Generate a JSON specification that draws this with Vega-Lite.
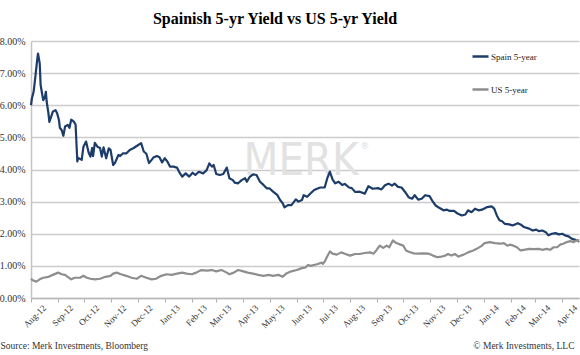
{
  "$schema": "https://vega.github.io/schema/vega-lite/v6.json",
  "width": 548,
  "height": 257,
  "autosize": {"type": "none"},
  "padding": {"left": 31, "top": 41, "right": 1, "bottom": 57},
  "background": "white",
  "title": {"text": "Spainish 5-yr Yield vs US 5-yr Yield", "font": "Liberation Serif", "fontSize": 16, "fontWeight": "bold", "color": "#000000", "anchor": "middle", "dx": -30, "offset": 9},
  "config": {
    "view": {"stroke": null},
    "axisX": {
      "labelAngle": -45, "labelAlign": "right", "labelBaseline": "middle",
      "labelOffset": 13, "labelPadding": 4, "labelFlush": false, "labelOverlap": false,
      "labelFont": "Liberation Serif", "labelFontSize": 9, "labelColor": "#333333",
      "grid": false, "tickSize": 4, "tickColor": "#b0b0b0", "tickWidth": 1,
      "domainColor": "#b8b8b8", "domainWidth": 1.5,
      "titleX": -31, "titleY": 47, "titleAlign": "left", "titleBaseline": "middle",
      "titleFont": "Liberation Serif", "titleFontSize": 9.5, "titleFontWeight": "normal", "titleColor": "#333333"
    },
    "axisY": {
      "labelOverlap": false,
      "grid": true, "gridColor": "#cccccc", "gridWidth": 1.5,
      "domainColor": "#c4c4c4", "domainWidth": 1.5, "ticks": false, "labelPadding": 6,
      "labelFont": "Liberation Serif", "labelFontSize": 10, "labelColor": "#333333",
      "titleAngle": 0, "titleX": 543, "titleY": 304,
      "titleAlign": "right", "titleBaseline": "middle",
      "titleFont": "Liberation Serif", "titleFontSize": 9.5, "titleFontWeight": "normal", "titleColor": "#333333"
    }
  },
  "layer": [
    {
      "data": {"values": [{"label": "MERK"}]},
      "mark": {"type": "text", "font": "DejaVu Sans Condensed", "fontSize": 45, "color": "#e2e2e2", "align": "center", "baseline": "alphabetic"},
      "encoding": {
        "x": {"datum": {"year": 2013, "month": 6, "date": 6, "utc": true}, "type": "temporal",
          "axis": {"tickCount": {"interval": "month", "step": 1}, "labelExpr": "utcFormat(datum.value, '%b-%y')", "title": "Source: Merk Investments, Bloomberg"}},
        "y": {"datum": 3.83, "type": "quantitative",
          "axis": {"values": [0, 1, 2, 3, 4, 5, 6, 7, 8], "tickCount": 12, "labelExpr": "format(datum.value, '.2f') + '%'", "title": "© Merk Investments, LLC"}},
        "text": {"field": "label"}
      }
    },
    {
      "data": {"values": [{"label": "®"}]},
      "mark": {"type": "text", "font": "DejaVu Sans", "fontSize": 9, "color": "#dddddd", "align": "center", "baseline": "middle"},
      "encoding": {
        "x": {"datum": {"year": 2013, "month": 8, "date": 18, "utc": true}, "type": "temporal",
          "axis": {"tickCount": {"interval": "month", "step": 1}, "labelExpr": "utcFormat(datum.value, '%b-%y')", "title": "Source: Merk Investments, Bloomberg"}},
        "y": {"datum": 4.74, "type": "quantitative",
          "axis": {"values": [0, 1, 2, 3, 4, 5, 6, 7, 8], "tickCount": 12, "labelExpr": "format(datum.value, '.2f') + '%'", "title": "© Merk Investments, LLC"}},
        "text": {"field": "label"}
      }
    },
    {
      "data": {"values": [
        {"series":"Spain 5-year","date":"2012-08-01","yield":6.00},
        {"series":"Spain 5-year","date":"2012-08-02","yield":6.21},
        {"series":"Spain 5-year","date":"2012-08-04","yield":6.42},
        {"series":"Spain 5-year","date":"2012-08-06","yield":6.89},
        {"series":"Spain 5-year","date":"2012-08-08","yield":7.40},
        {"series":"Spain 5-year","date":"2012-08-09","yield":7.61},
        {"series":"Spain 5-year","date":"2012-08-11","yield":7.30},
        {"series":"Spain 5-year","date":"2012-08-12","yield":6.63},
        {"series":"Spain 5-year","date":"2012-08-14","yield":6.31},
        {"series":"Spain 5-year","date":"2012-08-15","yield":6.16},
        {"series":"Spain 5-year","date":"2012-08-17","yield":6.26},
        {"series":"Spain 5-year","date":"2012-08-18","yield":6.42},
        {"series":"Spain 5-year","date":"2012-08-19","yield":6.10},
        {"series":"Spain 5-year","date":"2012-08-21","yield":5.74},
        {"series":"Spain 5-year","date":"2012-08-22","yield":5.48},
        {"series":"Spain 5-year","date":"2012-08-24","yield":5.64},
        {"series":"Spain 5-year","date":"2012-08-26","yield":5.80},
        {"series":"Spain 5-year","date":"2012-08-29","yield":5.85},
        {"series":"Spain 5-year","date":"2012-08-31","yield":5.74},
        {"series":"Spain 5-year","date":"2012-09-02","yield":5.54},
        {"series":"Spain 5-year","date":"2012-09-03","yield":5.30},
        {"series":"Spain 5-year","date":"2012-09-05","yield":5.23},
        {"series":"Spain 5-year","date":"2012-09-07","yield":5.05},
        {"series":"Spain 5-year","date":"2012-09-09","yield":5.34},
        {"series":"Spain 5-year","date":"2012-09-12","yield":5.39},
        {"series":"Spain 5-year","date":"2012-09-14","yield":5.30},
        {"series":"Spain 5-year","date":"2012-09-16","yield":5.55},
        {"series":"Spain 5-year","date":"2012-09-19","yield":5.49},
        {"series":"Spain 5-year","date":"2012-09-21","yield":5.40},
        {"series":"Spain 5-year","date":"2012-09-23","yield":4.25},
        {"series":"Spain 5-year","date":"2012-09-24","yield":4.36},
        {"series":"Spain 5-year","date":"2012-09-26","yield":4.33},
        {"series":"Spain 5-year","date":"2012-09-28","yield":4.30},
        {"series":"Spain 5-year","date":"2012-09-30","yield":4.71},
        {"series":"Spain 5-year","date":"2012-10-03","yield":4.87},
        {"series":"Spain 5-year","date":"2012-10-06","yield":4.52},
        {"series":"Spain 5-year","date":"2012-10-08","yield":4.40},
        {"series":"Spain 5-year","date":"2012-10-10","yield":4.67},
        {"series":"Spain 5-year","date":"2012-10-11","yield":4.42},
        {"series":"Spain 5-year","date":"2012-10-13","yield":4.83},
        {"series":"Spain 5-year","date":"2012-10-16","yield":4.71},
        {"series":"Spain 5-year","date":"2012-10-19","yield":4.67},
        {"series":"Spain 5-year","date":"2012-10-21","yield":4.40},
        {"series":"Spain 5-year","date":"2012-10-23","yield":4.69},
        {"series":"Spain 5-year","date":"2012-10-26","yield":4.35},
        {"series":"Spain 5-year","date":"2012-10-29","yield":4.66},
        {"series":"Spain 5-year","date":"2012-10-31","yield":4.61},
        {"series":"Spain 5-year","date":"2012-11-03","yield":4.14},
        {"series":"Spain 5-year","date":"2012-11-05","yield":4.20},
        {"series":"Spain 5-year","date":"2012-11-09","yield":4.45},
        {"series":"Spain 5-year","date":"2012-11-11","yield":4.42},
        {"series":"Spain 5-year","date":"2012-11-14","yield":4.50},
        {"series":"Spain 5-year","date":"2012-11-18","yield":4.50},
        {"series":"Spain 5-year","date":"2012-11-22","yield":4.61},
        {"series":"Spain 5-year","date":"2012-11-26","yield":4.66},
        {"series":"Spain 5-year","date":"2012-11-30","yield":4.73},
        {"series":"Spain 5-year","date":"2012-12-05","yield":4.82},
        {"series":"Spain 5-year","date":"2012-12-08","yield":4.56},
        {"series":"Spain 5-year","date":"2012-12-11","yield":4.49},
        {"series":"Spain 5-year","date":"2012-12-14","yield":4.20},
        {"series":"Spain 5-year","date":"2012-12-17","yield":4.30},
        {"series":"Spain 5-year","date":"2012-12-19","yield":4.37},
        {"series":"Spain 5-year","date":"2012-12-23","yield":4.42},
        {"series":"Spain 5-year","date":"2012-12-26","yield":4.38},
        {"series":"Spain 5-year","date":"2012-12-29","yield":4.22},
        {"series":"Spain 5-year","date":"2013-01-01","yield":4.35},
        {"series":"Spain 5-year","date":"2013-01-04","yield":4.25},
        {"series":"Spain 5-year","date":"2013-01-07","yield":4.09},
        {"series":"Spain 5-year","date":"2013-01-11","yield":4.09},
        {"series":"Spain 5-year","date":"2013-01-15","yield":4.06},
        {"series":"Spain 5-year","date":"2013-01-18","yield":3.90},
        {"series":"Spain 5-year","date":"2013-01-21","yield":3.78},
        {"series":"Spain 5-year","date":"2013-01-25","yield":3.88},
        {"series":"Spain 5-year","date":"2013-01-29","yield":3.78},
        {"series":"Spain 5-year","date":"2013-02-02","yield":3.90},
        {"series":"Spain 5-year","date":"2013-02-05","yield":3.83},
        {"series":"Spain 5-year","date":"2013-02-09","yield":3.93},
        {"series":"Spain 5-year","date":"2013-02-14","yield":3.88},
        {"series":"Spain 5-year","date":"2013-02-18","yield":3.98},
        {"series":"Spain 5-year","date":"2013-02-21","yield":4.19},
        {"series":"Spain 5-year","date":"2013-02-24","yield":4.09},
        {"series":"Spain 5-year","date":"2013-02-26","yield":4.14},
        {"series":"Spain 5-year","date":"2013-03-01","yield":3.86},
        {"series":"Spain 5-year","date":"2013-03-05","yield":3.83},
        {"series":"Spain 5-year","date":"2013-03-09","yield":3.86},
        {"series":"Spain 5-year","date":"2013-03-13","yield":4.06},
        {"series":"Spain 5-year","date":"2013-03-16","yield":3.73},
        {"series":"Spain 5-year","date":"2013-03-20","yield":3.67},
        {"series":"Spain 5-year","date":"2013-03-22","yield":3.59},
        {"series":"Spain 5-year","date":"2013-03-26","yield":3.57},
        {"series":"Spain 5-year","date":"2013-03-30","yield":3.67},
        {"series":"Spain 5-year","date":"2013-04-03","yield":3.73},
        {"series":"Spain 5-year","date":"2013-04-05","yield":3.62},
        {"series":"Spain 5-year","date":"2013-04-08","yield":3.76},
        {"series":"Spain 5-year","date":"2013-04-12","yield":3.85},
        {"series":"Spain 5-year","date":"2013-04-16","yield":3.83},
        {"series":"Spain 5-year","date":"2013-04-20","yield":3.62},
        {"series":"Spain 5-year","date":"2013-04-24","yield":3.52},
        {"series":"Spain 5-year","date":"2013-04-28","yield":3.41},
        {"series":"Spain 5-year","date":"2013-05-01","yield":3.41},
        {"series":"Spain 5-year","date":"2013-05-05","yield":3.31},
        {"series":"Spain 5-year","date":"2013-05-10","yield":3.20},
        {"series":"Spain 5-year","date":"2013-05-13","yield":3.05},
        {"series":"Spain 5-year","date":"2013-05-16","yield":2.95},
        {"series":"Spain 5-year","date":"2013-05-18","yield":2.82},
        {"series":"Spain 5-year","date":"2013-05-22","yield":2.89},
        {"series":"Spain 5-year","date":"2013-05-26","yield":2.89},
        {"series":"Spain 5-year","date":"2013-05-31","yield":3.07},
        {"series":"Spain 5-year","date":"2013-06-03","yield":3.00},
        {"series":"Spain 5-year","date":"2013-06-07","yield":3.05},
        {"series":"Spain 5-year","date":"2013-06-09","yield":3.20},
        {"series":"Spain 5-year","date":"2013-06-13","yield":3.15},
        {"series":"Spain 5-year","date":"2013-06-17","yield":3.26},
        {"series":"Spain 5-year","date":"2013-06-21","yield":3.36},
        {"series":"Spain 5-year","date":"2013-06-25","yield":3.41},
        {"series":"Spain 5-year","date":"2013-06-28","yield":3.44},
        {"series":"Spain 5-year","date":"2013-07-03","yield":3.44},
        {"series":"Spain 5-year","date":"2013-07-06","yield":3.73},
        {"series":"Spain 5-year","date":"2013-07-09","yield":3.93},
        {"series":"Spain 5-year","date":"2013-07-12","yield":3.69},
        {"series":"Spain 5-year","date":"2013-07-15","yield":3.57},
        {"series":"Spain 5-year","date":"2013-07-19","yield":3.62},
        {"series":"Spain 5-year","date":"2013-07-23","yield":3.52},
        {"series":"Spain 5-year","date":"2013-07-26","yield":3.55},
        {"series":"Spain 5-year","date":"2013-07-31","yield":3.44},
        {"series":"Spain 5-year","date":"2013-08-03","yield":3.42},
        {"series":"Spain 5-year","date":"2013-08-07","yield":3.30},
        {"series":"Spain 5-year","date":"2013-08-12","yield":3.31},
        {"series":"Spain 5-year","date":"2013-08-18","yield":3.25},
        {"series":"Spain 5-year","date":"2013-08-22","yield":3.48},
        {"series":"Spain 5-year","date":"2013-08-27","yield":3.40},
        {"series":"Spain 5-year","date":"2013-09-02","yield":3.42},
        {"series":"Spain 5-year","date":"2013-09-06","yield":3.38},
        {"series":"Spain 5-year","date":"2013-09-10","yield":3.51},
        {"series":"Spain 5-year","date":"2013-09-14","yield":3.56},
        {"series":"Spain 5-year","date":"2013-09-18","yield":3.50},
        {"series":"Spain 5-year","date":"2013-09-21","yield":3.56},
        {"series":"Spain 5-year","date":"2013-09-25","yield":3.46},
        {"series":"Spain 5-year","date":"2013-09-29","yield":3.44},
        {"series":"Spain 5-year","date":"2013-10-03","yield":3.30},
        {"series":"Spain 5-year","date":"2013-10-07","yield":3.14},
        {"series":"Spain 5-year","date":"2013-10-11","yield":3.09},
        {"series":"Spain 5-year","date":"2013-10-14","yield":3.20},
        {"series":"Spain 5-year","date":"2013-10-18","yield":3.06},
        {"series":"Spain 5-year","date":"2013-10-22","yield":3.09},
        {"series":"Spain 5-year","date":"2013-10-26","yield":3.20},
        {"series":"Spain 5-year","date":"2013-10-31","yield":3.17},
        {"series":"Spain 5-year","date":"2013-11-04","yield":2.99},
        {"series":"Spain 5-year","date":"2013-11-07","yield":2.88},
        {"series":"Spain 5-year","date":"2013-11-11","yield":2.81},
        {"series":"Spain 5-year","date":"2013-11-16","yield":2.73},
        {"series":"Spain 5-year","date":"2013-11-20","yield":2.75},
        {"series":"Spain 5-year","date":"2013-11-23","yield":2.71},
        {"series":"Spain 5-year","date":"2013-11-28","yield":2.71},
        {"series":"Spain 5-year","date":"2013-12-02","yield":2.63},
        {"series":"Spain 5-year","date":"2013-12-07","yield":2.57},
        {"series":"Spain 5-year","date":"2013-12-11","yield":2.60},
        {"series":"Spain 5-year","date":"2013-12-14","yield":2.73},
        {"series":"Spain 5-year","date":"2013-12-18","yield":2.67},
        {"series":"Spain 5-year","date":"2013-12-22","yield":2.78},
        {"series":"Spain 5-year","date":"2013-12-26","yield":2.73},
        {"series":"Spain 5-year","date":"2013-12-30","yield":2.75},
        {"series":"Spain 5-year","date":"2014-01-05","yield":2.83},
        {"series":"Spain 5-year","date":"2014-01-10","yield":2.85},
        {"series":"Spain 5-year","date":"2014-01-13","yield":2.78},
        {"series":"Spain 5-year","date":"2014-01-16","yield":2.57},
        {"series":"Spain 5-year","date":"2014-01-19","yield":2.42},
        {"series":"Spain 5-year","date":"2014-01-22","yield":2.39},
        {"series":"Spain 5-year","date":"2014-01-25","yield":2.31},
        {"series":"Spain 5-year","date":"2014-01-30","yield":2.29},
        {"series":"Spain 5-year","date":"2014-02-03","yield":2.26},
        {"series":"Spain 5-year","date":"2014-02-09","yield":2.33},
        {"series":"Spain 5-year","date":"2014-02-12","yield":2.29},
        {"series":"Spain 5-year","date":"2014-02-16","yield":2.21},
        {"series":"Spain 5-year","date":"2014-02-22","yield":2.16},
        {"series":"Spain 5-year","date":"2014-02-26","yield":2.10},
        {"series":"Spain 5-year","date":"2014-03-02","yield":2.13},
        {"series":"Spain 5-year","date":"2014-03-05","yield":2.08},
        {"series":"Spain 5-year","date":"2014-03-09","yield":2.10},
        {"series":"Spain 5-year","date":"2014-03-13","yield":2.05},
        {"series":"Spain 5-year","date":"2014-03-16","yield":1.95},
        {"series":"Spain 5-year","date":"2014-03-20","yield":2.00},
        {"series":"Spain 5-year","date":"2014-03-24","yield":2.02},
        {"series":"Spain 5-year","date":"2014-03-28","yield":1.98},
        {"series":"Spain 5-year","date":"2014-04-01","yield":2.00},
        {"series":"Spain 5-year","date":"2014-04-04","yield":1.95},
        {"series":"Spain 5-year","date":"2014-04-08","yield":1.92},
        {"series":"Spain 5-year","date":"2014-04-12","yield":1.84},
        {"series":"Spain 5-year","date":"2014-04-16","yield":1.81},
        {"series":"Spain 5-year","date":"2014-04-20","yield":1.78},
        {"series":"US 5-year","date":"2012-08-01","yield":0.60},
        {"series":"US 5-year","date":"2012-08-03","yield":0.55},
        {"series":"US 5-year","date":"2012-08-07","yield":0.51},
        {"series":"US 5-year","date":"2012-08-11","yield":0.58},
        {"series":"US 5-year","date":"2012-08-15","yield":0.63},
        {"series":"US 5-year","date":"2012-08-21","yield":0.66},
        {"series":"US 5-year","date":"2012-08-26","yield":0.72},
        {"series":"US 5-year","date":"2012-09-01","yield":0.79},
        {"series":"US 5-year","date":"2012-09-05","yield":0.74},
        {"series":"US 5-year","date":"2012-09-09","yield":0.72},
        {"series":"US 5-year","date":"2012-09-12","yield":0.66},
        {"series":"US 5-year","date":"2012-09-16","yield":0.58},
        {"series":"US 5-year","date":"2012-09-20","yield":0.63},
        {"series":"US 5-year","date":"2012-09-26","yield":0.63},
        {"series":"US 5-year","date":"2012-09-30","yield":0.69},
        {"series":"US 5-year","date":"2012-10-04","yield":0.63},
        {"series":"US 5-year","date":"2012-10-08","yield":0.60},
        {"series":"US 5-year","date":"2012-10-13","yield":0.58},
        {"series":"US 5-year","date":"2012-10-19","yield":0.60},
        {"series":"US 5-year","date":"2012-10-25","yield":0.66},
        {"series":"US 5-year","date":"2012-10-31","yield":0.69},
        {"series":"US 5-year","date":"2012-11-03","yield":0.76},
        {"series":"US 5-year","date":"2012-11-07","yield":0.79},
        {"series":"US 5-year","date":"2012-11-12","yield":0.74},
        {"series":"US 5-year","date":"2012-11-18","yield":0.69},
        {"series":"US 5-year","date":"2012-11-24","yield":0.63},
        {"series":"US 5-year","date":"2012-11-30","yield":0.60},
        {"series":"US 5-year","date":"2012-12-05","yield":0.69},
        {"series":"US 5-year","date":"2012-12-11","yield":0.63},
        {"series":"US 5-year","date":"2012-12-17","yield":0.58},
        {"series":"US 5-year","date":"2012-12-22","yield":0.60},
        {"series":"US 5-year","date":"2012-12-28","yield":0.69},
        {"series":"US 5-year","date":"2013-01-03","yield":0.74},
        {"series":"US 5-year","date":"2013-01-09","yield":0.72},
        {"series":"US 5-year","date":"2013-01-15","yield":0.76},
        {"series":"US 5-year","date":"2013-01-21","yield":0.79},
        {"series":"US 5-year","date":"2013-01-26","yield":0.76},
        {"series":"US 5-year","date":"2013-02-01","yield":0.74},
        {"series":"US 5-year","date":"2013-02-06","yield":0.79},
        {"series":"US 5-year","date":"2013-02-12","yield":0.87},
        {"series":"US 5-year","date":"2013-02-18","yield":0.85},
        {"series":"US 5-year","date":"2013-02-24","yield":0.87},
        {"series":"US 5-year","date":"2013-03-01","yield":0.83},
        {"series":"US 5-year","date":"2013-03-07","yield":0.87},
        {"series":"US 5-year","date":"2013-03-13","yield":0.79},
        {"series":"US 5-year","date":"2013-03-16","yield":0.74},
        {"series":"US 5-year","date":"2013-03-21","yield":0.79},
        {"series":"US 5-year","date":"2013-03-26","yield":0.87},
        {"series":"US 5-year","date":"2013-04-01","yield":0.83},
        {"series":"US 5-year","date":"2013-04-06","yield":0.79},
        {"series":"US 5-year","date":"2013-04-12","yield":0.76},
        {"series":"US 5-year","date":"2013-04-18","yield":0.72},
        {"series":"US 5-year","date":"2013-04-24","yield":0.69},
        {"series":"US 5-year","date":"2013-04-30","yield":0.72},
        {"series":"US 5-year","date":"2013-05-05","yield":0.69},
        {"series":"US 5-year","date":"2013-05-11","yield":0.72},
        {"series":"US 5-year","date":"2013-05-16","yield":0.66},
        {"series":"US 5-year","date":"2013-05-20","yield":0.76},
        {"series":"US 5-year","date":"2013-05-26","yield":0.83},
        {"series":"US 5-year","date":"2013-06-01","yield":0.87},
        {"series":"US 5-year","date":"2013-06-07","yield":0.93},
        {"series":"US 5-year","date":"2013-06-11","yield":0.95},
        {"series":"US 5-year","date":"2013-06-14","yield":1.03},
        {"series":"US 5-year","date":"2013-06-17","yield":1.00},
        {"series":"US 5-year","date":"2013-06-24","yield":1.05},
        {"series":"US 5-year","date":"2013-06-30","yield":1.10},
        {"series":"US 5-year","date":"2013-07-01","yield":1.06},
        {"series":"US 5-year","date":"2013-07-03","yield":1.13},
        {"series":"US 5-year","date":"2013-07-06","yield":1.30},
        {"series":"US 5-year","date":"2013-07-09","yield":1.45},
        {"series":"US 5-year","date":"2013-07-12","yield":1.38},
        {"series":"US 5-year","date":"2013-07-17","yield":1.35},
        {"series":"US 5-year","date":"2013-07-22","yield":1.42},
        {"series":"US 5-year","date":"2013-07-26","yield":1.38},
        {"series":"US 5-year","date":"2013-08-01","yield":1.32},
        {"series":"US 5-year","date":"2013-08-07","yield":1.37},
        {"series":"US 5-year","date":"2013-08-12","yield":1.37},
        {"series":"US 5-year","date":"2013-08-18","yield":1.40},
        {"series":"US 5-year","date":"2013-08-24","yield":1.42},
        {"series":"US 5-year","date":"2013-08-28","yield":1.38},
        {"series":"US 5-year","date":"2013-08-31","yield":1.48},
        {"series":"US 5-year","date":"2013-09-04","yield":1.63},
        {"series":"US 5-year","date":"2013-09-08","yield":1.56},
        {"series":"US 5-year","date":"2013-09-12","yield":1.63},
        {"series":"US 5-year","date":"2013-09-15","yield":1.58},
        {"series":"US 5-year","date":"2013-09-19","yield":1.79},
        {"series":"US 5-year","date":"2013-09-23","yield":1.71},
        {"series":"US 5-year","date":"2013-09-27","yield":1.67},
        {"series":"US 5-year","date":"2013-10-01","yield":1.63},
        {"series":"US 5-year","date":"2013-10-04","yield":1.48},
        {"series":"US 5-year","date":"2013-10-08","yield":1.43},
        {"series":"US 5-year","date":"2013-10-13","yield":1.39},
        {"series":"US 5-year","date":"2013-10-18","yield":1.38},
        {"series":"US 5-year","date":"2013-10-24","yield":1.39},
        {"series":"US 5-year","date":"2013-10-30","yield":1.38},
        {"series":"US 5-year","date":"2013-11-04","yield":1.32},
        {"series":"US 5-year","date":"2013-11-09","yield":1.27},
        {"series":"US 5-year","date":"2013-11-14","yield":1.29},
        {"series":"US 5-year","date":"2013-11-18","yield":1.32},
        {"series":"US 5-year","date":"2013-11-21","yield":1.37},
        {"series":"US 5-year","date":"2013-11-25","yield":1.32},
        {"series":"US 5-year","date":"2013-11-29","yield":1.37},
        {"series":"US 5-year","date":"2013-12-03","yield":1.29},
        {"series":"US 5-year","date":"2013-12-09","yield":1.35},
        {"series":"US 5-year","date":"2013-12-14","yield":1.42},
        {"series":"US 5-year","date":"2013-12-20","yield":1.48},
        {"series":"US 5-year","date":"2013-12-24","yield":1.53},
        {"series":"US 5-year","date":"2013-12-30","yield":1.63},
        {"series":"US 5-year","date":"2014-01-02","yield":1.71},
        {"series":"US 5-year","date":"2014-01-08","yield":1.74},
        {"series":"US 5-year","date":"2014-01-14","yield":1.71},
        {"series":"US 5-year","date":"2014-01-20","yield":1.69},
        {"series":"US 5-year","date":"2014-01-24","yield":1.71},
        {"series":"US 5-year","date":"2014-01-28","yield":1.63},
        {"series":"US 5-year","date":"2014-01-31","yield":1.66},
        {"series":"US 5-year","date":"2014-02-04","yield":1.63},
        {"series":"US 5-year","date":"2014-02-08","yield":1.58},
        {"series":"US 5-year","date":"2014-02-12","yield":1.48},
        {"series":"US 5-year","date":"2014-02-16","yield":1.50},
        {"series":"US 5-year","date":"2014-02-22","yield":1.53},
        {"series":"US 5-year","date":"2014-02-27","yield":1.52},
        {"series":"US 5-year","date":"2014-03-05","yield":1.53},
        {"series":"US 5-year","date":"2014-03-09","yield":1.50},
        {"series":"US 5-year","date":"2014-03-14","yield":1.53},
        {"series":"US 5-year","date":"2014-03-18","yield":1.50},
        {"series":"US 5-year","date":"2014-03-22","yield":1.58},
        {"series":"US 5-year","date":"2014-03-26","yield":1.58},
        {"series":"US 5-year","date":"2014-03-30","yield":1.67},
        {"series":"US 5-year","date":"2014-04-02","yield":1.69},
        {"series":"US 5-year","date":"2014-04-06","yield":1.74},
        {"series":"US 5-year","date":"2014-04-10","yield":1.77},
        {"series":"US 5-year","date":"2014-04-14","yield":1.74},
        {"series":"US 5-year","date":"2014-04-18","yield":1.81},
        {"series":"US 5-year","date":"2014-04-20","yield":1.73}
      ]},
      "mark": {"type": "line", "strokeWidth": 2.2, "strokeJoin": "round"},
      "encoding": {
        "x": {
          "field": "date", "type": "temporal",
          "scale": {"type": "utc", "domain": [{"year": 2012, "month": 8, "date": 1, "utc": true}, {"year": 2014, "month": 4, "date": 20, "utc": true}]},
          "axis": {"tickCount": {"interval": "month", "step": 1}, "labelExpr": "utcFormat(datum.value, '%b-%y')", "title": "Source: Merk Investments, Bloomberg"}
        },
        "y": {
          "field": "yield", "type": "quantitative",
          "scale": {"domain": [0, 8], "nice": false},
          "axis": {"values": [0, 1, 2, 3, 4, 5, 6, 7, 8], "tickCount": 12, "labelExpr": "format(datum.value, '.2f') + '%'", "title": "© Merk Investments, LLC"}
        },
        "color": {
          "field": "series", "type": "nominal",
          "scale": {"domain": ["Spain 5-year", "US 5-year"], "range": ["#1c3c6a", "#8e8e8e"]},
          "legend": {
            "orient": "none", "legendX": 440, "legendY": 6, "title": null,
            "symbolType": "stroke", "symbolSize": 256, "symbolStrokeWidth": 2.5,
            "labelFont": "Liberation Serif", "labelFontSize": 9, "labelColor": "#222222",
            "labelOffset": 1, "rowPadding": 18, "direction": "vertical"
          }
        }
      }
    }
  ]
}
